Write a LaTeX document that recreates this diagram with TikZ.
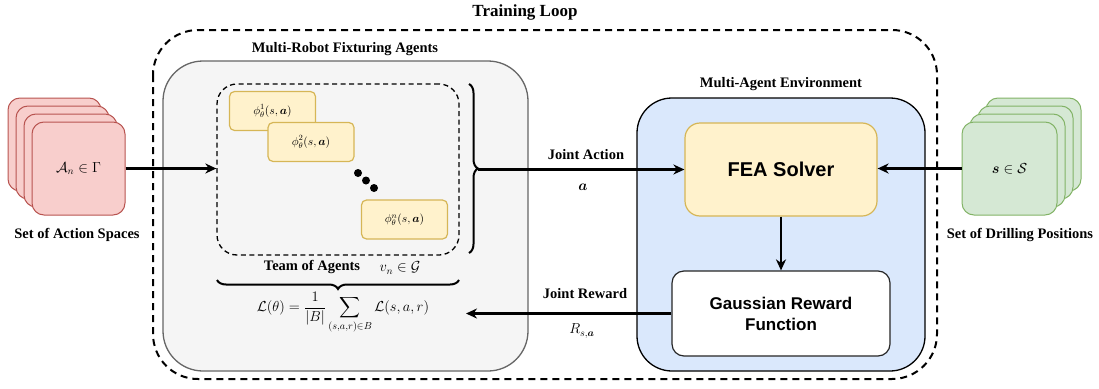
\RequirePackage{fix-cm}
\documentclass[tikz,border=0pt]{standalone}
\usepackage{amsmath,amssymb,bm}
\usepackage{fontspec}
\setmainfont{Liberation Serif}
\newfontfamily\arialfont{Liberation Sans}
\usetikzlibrary{arrows.meta,decorations.pathreplacing,calc}
\definecolor{pinkfill}{HTML}{F8CECC}
\definecolor{pinkline}{HTML}{B85450}
\definecolor{greenfill}{HTML}{D5E8D4}
\definecolor{greenline}{HTML}{82B366}
\definecolor{yelfill}{HTML}{FFF2CC}
\definecolor{yelline}{HTML}{D6B656}
\definecolor{bluefill}{HTML}{DAE8FC}
\definecolor{grayfill}{HTML}{F5F5F5}
\definecolor{grayline}{HTML}{666666}
\tikzset{
  lbl/.style={font=\fontsize{14.5}{17}\selectfont\bfseries, inner sep=0pt},
  mth/.style={font=\fontsize{14.5}{17}\selectfont, inner sep=0pt},
  pinkcard/.style={draw=pinkline, fill=pinkfill, line width=1pt, rounded corners=12pt, minimum width=93pt, minimum height=93pt, inner sep=0pt},
  greencard/.style={draw=greenline, fill=greenfill, line width=1pt, rounded corners=12pt, minimum width=95pt, minimum height=93pt, inner sep=0pt},
  agent/.style={draw=yelline, fill=yelfill, line width=1.2pt, rounded corners=5pt, minimum width=86pt, minimum height=39pt, inner sep=0pt, font=\fontsize{11.5}{13}\selectfont},
  arr/.style={line width=2.3pt, -{Stealth[length=11pt,width=10pt,inset=3.5pt]}},
  bracestyle/.style={line width=2pt, decorate, decoration={brace, amplitude=9pt}},
}
\begin{document}
\begin{tikzpicture}[x=1pt,y=-1pt]
\useasboundingbox (0,0) rectangle (1099,388);

% outer training loop
\node[lbl, font=\fontsize{17}{20}\selectfont\bfseries] (title) at (525,12) {Training Loop};
\draw[line width=2pt, dash pattern=on 7pt off 5pt, rounded corners=45pt] (153,30) rectangle (937,379);

% left agents box
\draw[draw=grayline, fill=grayfill, line width=1.3pt, rounded corners=40pt] (163,61) rectangle (528,371);
\node[lbl] (agentsLbl) at (345,49) {Multi-Robot Fixturing Agents};

% inner dashed team box
\node[draw, line width=1.3pt, dash pattern=on 5pt off 3.5pt, rounded corners=20pt, minimum width=242pt, minimum height=171pt, inner sep=0pt] (team) at (338,169.5) {};

\node[agent] (ag1) at (272.5,111) {$\phi_\theta^1(s,\bm{a})$};
\node[agent] (ag2) at (311,142) {$\phi_\theta^2(s,\bm{a})$};
\node[agent] (agn) at (404.5,219.5) {$\phi_\theta^n(s,\bm{a})$};
\fill (358,173) circle (4pt);
\fill (366,180.5) circle (4pt);
\fill (374,188) circle (4pt);

% right brace
\draw[bracestyle] (469,84) -- (469,253);
\coordinate (bt) at (478,169.5);

% bottom brace and labels
\node[lbl] (teamLbl) at (312,267) {Team of Agents};
\node[mth] (vn) at (400,268) {$v_n\in\mathcal{G}$};
\draw[bracestyle] (459,280) -- (217,280);
\node[mth] (loss) at (343,313) {$\mathcal{L}(\theta)=\dfrac{1}{|B|}\displaystyle\sum_{(s,a,r)\in B}\mathcal{L}(s,a,r)$};

% action spaces cards
\node[pinkcard] (a4) at (54.5,144.5) {};
\node[pinkcard] (a3) at (62.5,152.5) {};
\node[pinkcard] (a2) at (70.5,160.5) {};
\node[pinkcard, font=\fontsize{14.5}{17}\selectfont] (a1) at (78.5,168.5) {$\mathcal{A}_n\in\Gamma$};
\node[lbl] (aLbl) at (77,235) {Set of Action Spaces};

% drilling positions cards
\node[greencard] (g4) at (1033.5,144.5) {};
\node[greencard] (g3) at (1025.5,152.5) {};
\node[greencard] (g2) at (1017.5,160.5) {};
\node[greencard, font=\fontsize{14.5}{17}\selectfont] (g1) at (1009.5,168.5) {$\bm{s}\in\mathcal{S}$};
\node[lbl] (gLbl) at (1020,235) {Set of Drilling Positions};

% environment
\draw[draw=black, fill=bluefill, line width=1.3pt, rounded corners=35pt] (637,98) rectangle (925,371);
\node[lbl] (envLbl) at (781,84) {Multi-Agent Environment};
\node[draw=yelline, fill=yelfill, line width=1.2pt, rounded corners=15pt, minimum width=192pt, minimum height=93pt, inner sep=0pt, font=\arialfont\fontsize{20}{24}\selectfont\bfseries] (fea) at (781,169.5) {FEA Solver};
\node[draw=black!85, fill=white, line width=1.2pt, rounded corners=12pt, minimum width=218pt, minimum height=85pt, inner sep=0pt, align=center, font=\arialfont\fontsize{17}{21}\selectfont\bfseries] (gauss) at (781,313.5) {Gaussian Reward\\Function};

% connectors
\draw[arr] (a1.east) -- (a1.east -| team.west);
\draw[arr] (bt) -- (bt -| fea.west);
\draw[arr] (g1.west) -- (g1.west -| fea.east);
\draw[arr] (fea.south) -- (gauss.north);
\coordinate (rewEnd) at (466,313.5);
\draw[arr] (gauss.west) -- (rewEnd);

% connector labels
\node[lbl] (jaLbl) at (586,155) {Joint Action};
\node[mth] (jaMath) at (583,187) {$\bm{a}$};
\node[lbl] (jrLbl) at (585,294) {Joint Reward};
\node[mth] (jrMath) at (582,331) {$R_{s,\bm{a}}$};
\end{tikzpicture}
\end{document}
